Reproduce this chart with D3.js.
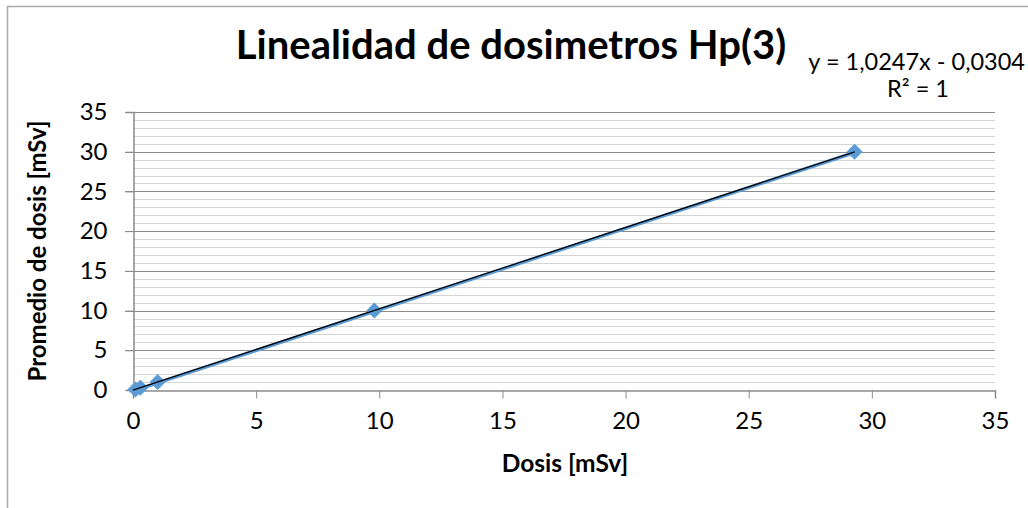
<!DOCTYPE html>
<html>
<head>
<meta charset="utf-8">
<script src="https://cdn.jsdelivr.net/npm/d3@7"></script>
<style>
  body { margin:0; background:#fff; }
  text { font-family: Lato, "Open Sans", sans-serif; }
</style>
</head>
<body>
<script>
// dose values
const dosis = [0.1, 0.3, 1.0, 9.8, 29.3]
const promedio = [0.07, 0.28, 1.0, 10.0, 30.0]
const ticks = [0, 5, 10, 15, 20, 25, 30, 35]
const slope = 1.0247
const intercept = -0.0304

const width = 1028
const height = 508
const plot = {left:133, right:995, top:112, bottom:390}

const svg = d3.select("body").append("svg")
  .attr("width", width)
  .attr("height", height)

// chart frame
svg.append("rect")
  .attr("x", 7.5).attr("y", 6.5)
  .attr("width", 1040).attr("height", 520)
  .attr("fill", "none")
  .attr("stroke", "#aaaaaa")
  .attr("stroke-width", 1.5)

const x = d3.scaleLinear().domain([0, 35]).range([plot.left, plot.right])
const y = d3.scaleLinear().domain([0, 35]).range([plot.bottom, plot.top])

// minor gridlines
svg.append("g")
  .selectAll("line")
  .data(d3.range(1, 35).filter(v => v % 5 != 0))
  .enter().append("line")
  .attr("x1", plot.left).attr("x2", plot.right)
  .attr("y1", d => Math.round(y(d)) + 0.5)
  .attr("y2", d => Math.round(y(d)) + 0.5)
  .attr("stroke", "#d4d4d4")

// major gridlines
svg.append("g")
  .selectAll("line")
  .data(ticks.slice(1))
  .enter().append("line")
  .attr("x1", plot.left - 8).attr("x2", plot.right)
  .attr("y1", d => Math.round(y(d)) + 0.5)
  .attr("y2", d => Math.round(y(d)) + 0.5)
  .attr("stroke", "#8c8c8c")

// y axis
const yAxis = svg.append("g")
  .attr("transform", `translate(${plot.left + 0.5},0)`)
  .call(d3.axisLeft(y).tickValues(ticks).tickSize(8).tickPadding(18))
yAxis.select(".domain").attr("stroke", "#8c8c8c").attr("stroke-width", 1.5)
yAxis.selectAll(".tick line").attr("stroke", "#8c8c8c")
yAxis.selectAll("text").attr("font-size", 24).attr("fill", "#000")

// x axis
const xAxis = svg.append("g")
  .attr("transform", `translate(0,${plot.bottom + 0.5})`)
  .call(d3.axisBottom(x).tickValues(ticks).tickSize(8).tickPadding(13))
xAxis.select(".domain").attr("stroke", "#8c8c8c").attr("stroke-width", 1.5)
xAxis.selectAll(".tick line").attr("stroke", "#8c8c8c")
xAxis.selectAll("text").attr("font-size", 24).attr("fill", "#000")

const pts = dosis.map((d, i) => [d, promedio[i]])

// series line
svg.append("path")
  .datum(pts)
  .attr("d", d3.line().x(d => x(d[0])).y(d => y(d[1]) + 0.8))
  .attr("fill", "none")
  .attr("stroke", "#5b9bd5")
  .attr("stroke-width", 3.5)

// markers
svg.append("g")
  .selectAll("path")
  .data(pts)
  .enter().append("path")
  .attr("transform", d => `translate(${x(d[0])},${y(d[1])})`)
  .attr("d", "M0,-8L8,0L0,8L-8,0Z")
  .attr("fill", "#5b9bd5")

// linear trendline
const tx = [0, d3.max(dosis)]
svg.append("line")
  .attr("x1", x(tx[0])).attr("y1", y(slope * tx[0] + intercept))
  .attr("x2", x(tx[1])).attr("y2", y(slope * tx[1] + intercept))
  .attr("stroke", "#000")
  .attr("stroke-width", 1.3)

// title
svg.append("text")
  .attr("x", 511).attr("y", 59)
  .attr("text-anchor", "middle")
  .attr("font-size", 40)
  .attr("font-weight", "bold")
  .text("Linealidad de dosimetros Hp(3)")

// equation
svg.append("text")
  .attr("x", 1025).attr("y", 70)
  .attr("text-anchor", "end")
  .attr("font-size", 23.5)
  .text("y = 1,0247x - 0,0304")
svg.append("text")
  .attr("x", 918).attr("y", 97)
  .attr("text-anchor", "middle")
  .attr("font-size", 23.5)
  .text("R² = 1")

// axis titles
svg.append("text")
  .attr("x", 565).attr("y", 472)
  .attr("text-anchor", "middle")
  .attr("font-size", 24.5)
  .attr("font-weight", "bold")
  .text("Dosis [mSv]")

svg.append("text")
  .attr("transform", "translate(46,251) rotate(-90)")
  .attr("text-anchor", "middle")
  .attr("font-size", 24)
  .attr("font-weight", "bold")
  .text("Promedio de dosis [mSv]")
</script>
</body>
</html>
